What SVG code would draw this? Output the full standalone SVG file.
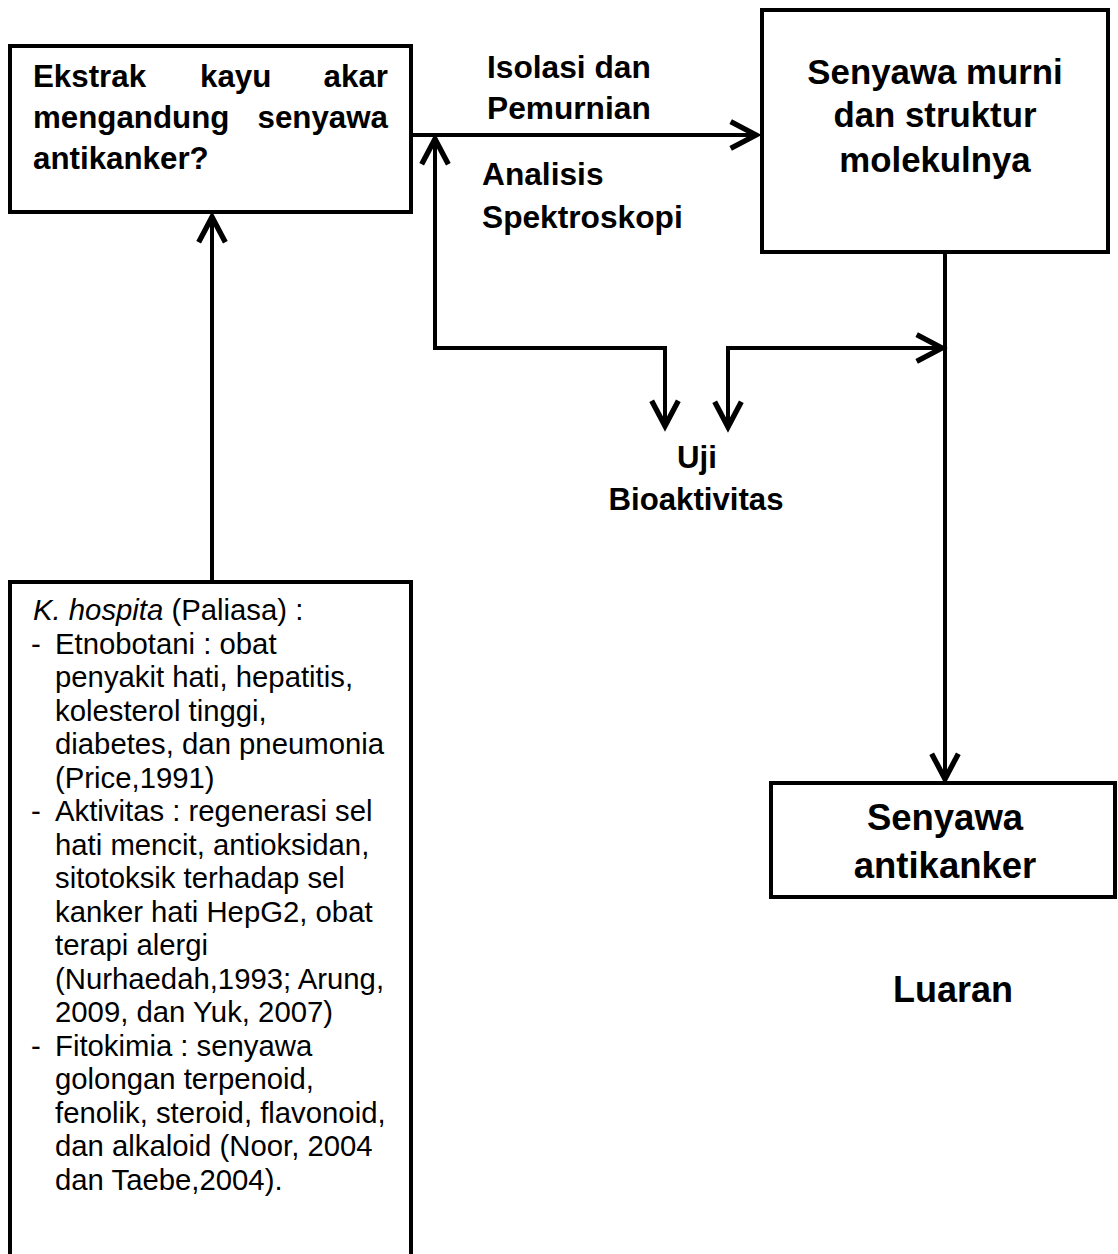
<svg xmlns="http://www.w3.org/2000/svg" width="1118" height="1254" viewBox="0 0 1118 1254">
<style>
.box{fill:#fff;stroke:#000;stroke-width:4}
.b{font-family:"Liberation Sans",Arial,sans-serif;font-weight:bold;fill:#000}
.r{font-family:"Liberation Sans",Arial,sans-serif;font-size:29.3px;fill:#000}
.conn{fill:none;stroke:#000;stroke-width:4}
</style>
<defs>
<marker id="arr" markerUnits="userSpaceOnUse" markerWidth="40" markerHeight="40" viewBox="-25 -15 30 30" refX="0" refY="0" orient="auto-start-reverse" overflow="visible">
<path d="M-19,-10 L0,0 L-19,10" fill="none" stroke="#000" stroke-width="4"/>
</marker>
</defs>
<rect width="1118" height="1254" fill="#fff"/>
<g id="connectors">
<path class="conn" d="M412,135 H756" marker-end="url(#arr)"/>
<path class="conn" d="M435,139 V348 H665 V426" marker-start="url(#arr)" marker-end="url(#arr)"/>
<path class="conn" d="M728,427 V348 H942" marker-start="url(#arr)" marker-end="url(#arr)"/>
<path class="conn" d="M945,252 V779" marker-end="url(#arr)"/>
<path class="conn" d="M212,582 V217" marker-end="url(#arr)"/>
</g>
<g id="node-ekstrak">
<rect class="box" x="10" y="46" width="401" height="166"/>
<text class="b" font-size="31.3" y="87"><tspan x="33">Ekstrak</tspan><tspan x="200">kayu</tspan></text>
<text class="b" font-size="31.3" x="388" y="87" text-anchor="end">akar</text>
<text class="b" font-size="31.3" x="33" y="128">mengandung</text>
<text class="b" font-size="31.3" x="388" y="128" text-anchor="end">senyawa</text>
<text class="b" font-size="31.3" x="33" y="169">antikanker?</text>
</g>
<g id="label-isolasi">
<text class="b" font-size="31.7" x="487" y="78">Isolasi dan</text>
<text class="b" font-size="31.7" x="487" y="119">Pemurnian</text>
</g>
<g id="label-analisis">
<text class="b" font-size="31.7" x="482" y="185">Analisis</text>
<text class="b" font-size="31.7" x="482" y="228">Spektroskopi</text>
</g>
<g id="node-murni">
<rect class="box" x="762" y="10" width="346" height="242"/>
<text class="b" font-size="34.8" x="935" y="84" text-anchor="middle">Senyawa murni</text>
<text class="b" font-size="34.8" x="935" y="127" text-anchor="middle">dan struktur</text>
<text class="b" font-size="34.8" x="935" y="172" text-anchor="middle">molekulnya</text>
</g>
<g id="label-uji">
<text class="b" font-size="31.2" x="697" y="468" text-anchor="middle">Uji</text>
<text class="b" font-size="31.2" x="696" y="510" text-anchor="middle">Bioaktivitas</text>
</g>
<g id="node-antikanker">
<rect class="box" x="771" y="783" width="344" height="114"/>
<text class="b" font-size="36.5" x="945" y="830" text-anchor="middle">Senyawa</text>
<text class="b" font-size="36.5" x="945" y="878" text-anchor="middle">antikanker</text>
</g>
<g id="label-luaran">
<text class="b" font-size="36" x="953" y="1002" text-anchor="middle">Luaran</text>
</g>
<g id="node-hospita">
<rect class="box" x="10" y="582" width="401" height="700"/>
<text class="r" x="33" y="620"><tspan font-style="italic">K. hospita</tspan> (Paliasa) :</text>
<text class="r" x="31" y="653.5">-</text>
<text class="r" x="55" y="653.5">Etnobotani : obat</text>
<text class="r" x="55" y="687">penyakit hati, hepatitis,</text>
<text class="r" x="55" y="720.5">kolesterol tinggi,</text>
<text class="r" x="55" y="754">diabetes, dan pneumonia</text>
<text class="r" x="55" y="787.5">(Price,1991)</text>
<text class="r" x="31" y="821">-</text>
<text class="r" x="55" y="821">Aktivitas : regenerasi sel</text>
<text class="r" x="55" y="854.5">hati mencit, antioksidan,</text>
<text class="r" x="55" y="888">sitotoksik terhadap sel</text>
<text class="r" x="55" y="921.5">kanker hati HepG2, obat</text>
<text class="r" x="55" y="955">terapi alergi</text>
<text class="r" x="55" y="988.5">(Nurhaedah,1993; Arung,</text>
<text class="r" x="55" y="1022">2009, dan Yuk, 2007)</text>
<text class="r" x="31" y="1055.5">-</text>
<text class="r" x="55" y="1055.5">Fitokimia : senyawa</text>
<text class="r" x="55" y="1089">golongan terpenoid,</text>
<text class="r" x="55" y="1122.5">fenolik, steroid, flavonoid,</text>
<text class="r" x="55" y="1156">dan alkaloid (Noor, 2004</text>
<text class="r" x="55" y="1189.5">dan Taebe,2004).</text>
</g>
</svg>
